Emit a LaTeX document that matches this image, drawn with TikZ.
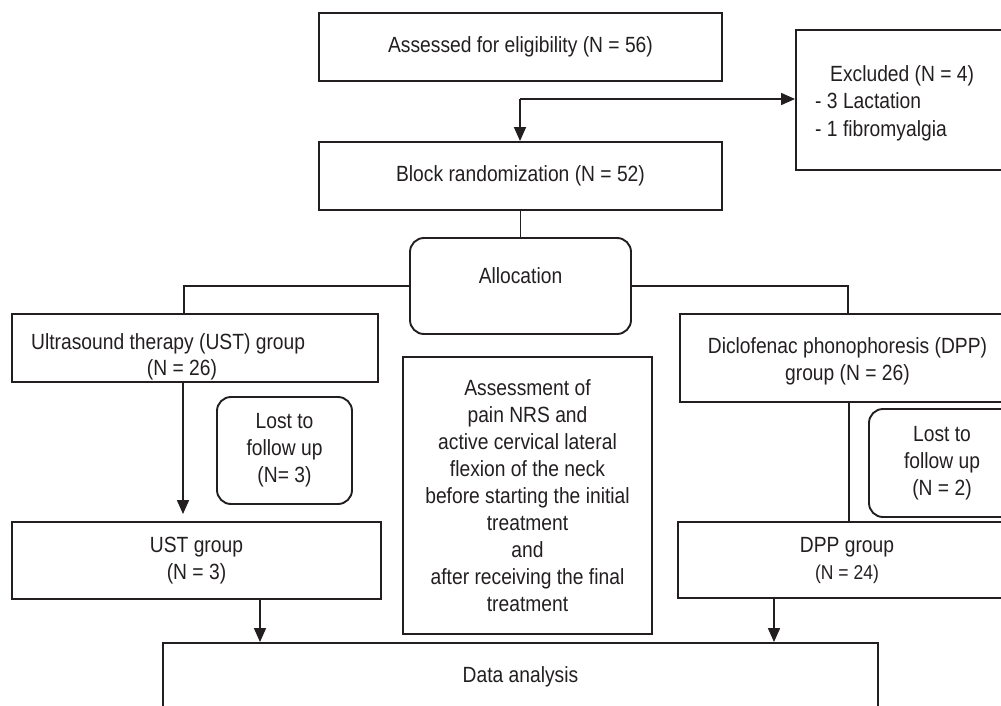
\documentclass[tikz,border=0pt]{standalone}
\usepackage{fontspec}
\setmainfont{Liberation Sans}[FakeStretch=0.875]
\usetikzlibrary{arrows.meta}
\definecolor{ink}{HTML}{231F20}
\begin{document}
\begin{tikzpicture}[x=1pt,y=-1pt,
  box/.style={draw=ink, line width=1.9pt, inner sep=0pt},
  rbox/.style={box, rounded corners=14pt},
  txt/.style={text=ink, font=\fontsize{22}{27}\selectfont, inner sep=0pt, align=center},
  conn/.style={draw=ink, line width=1.7pt},
  arr/.style={conn, -{Triangle[length=14pt,width=12pt]}}]
\useasboundingbox (0,0) rectangle (1001,706);
\clip (0,0) rectangle (1001,706);

% boxes
\node[box, txt, minimum width=403pt, minimum height=68pt] (assess) at (520.5,47) {Assessed for eligibility (N = 56)};
\node[box, minimum width=216pt, minimum height=140pt] (excl) at (904,100) {};
\node[txt, anchor=base west] (ex1) at (830,82) {Excluded (N = 4)};
\node[txt, anchor=base west] (ex2) at (815,109) {- 3 Lactation};
\node[txt, anchor=base west] (ex3) at (815,137) {- 1 fibromyalgia};

\node[box, txt, minimum width=403pt, minimum height=68pt] (block) at (520.5,176) {Block randomization (N = 52)};
\node[rbox, txt, minimum width=221pt, minimum height=96pt, text height=16pt, text depth=22pt] (alloc) at (520.5,286) {Allocation};

\node[box, minimum width=366pt, minimum height=68pt] (ust) at (195,348) {};
\node[txt, anchor=base west] (ust1) at (31,349) {Ultrasound therapy (UST) group};
\node[txt, anchor=base] (ust2) at (182,375) {(N = 26)};

\node[box, minimum width=336pt, minimum height=88pt] (dpp) at (848,358) {};
\node[txt, anchor=base] (dpp1) at (847.5,353) {Diclofenac phonophoresis (DPP)};
\node[txt, anchor=base] (dpp2) at (847.5,380) {group (N = 26)};

\node[rbox, txt, minimum width=135pt, minimum height=107pt] (lostl) at (284.5,450.5) {Lost to\\follow up\\(N= 3)};
\node[rbox, txt, minimum width=146pt, minimum height=108pt] (lostr) at (942,463) {Lost to\\follow up\\(N = 2)};

\node[box, txt, minimum width=249pt, minimum height=277pt] (asmt) at (527.5,495.5)
  {Assessment of\\pain NRS and\\active cervical lateral\\flexion of the neck\\before starting the initial\\treatment\\and\\after receiving the final\\treatment};

\node[box, txt, minimum width=369pt, minimum height=77pt] (ustg) at (196.5,560.5) {UST group\\(N = 3)};
\node[box, txt, minimum width=338pt, minimum height=76pt] (dppg) at (847,560) {DPP group\\{\fontsize{20}{27}\selectfont(N = 24)}};

\node[box, txt, minimum width=715pt, minimum height=68pt] (data) at (520.5,677) {Data analysis};

% connectors
\coordinate (j) at (520,99);
\draw[arr] (j) -- (j -| excl.west);
\draw[arr] (j) -- (j |- block.north);
\draw[conn] (block.south) -- (alloc.north);
\coordinate (ustin) at (184,314);
\draw[conn] (alloc.west) -| (ustin);
\draw[conn] (alloc.east) -| (dpp.north);
\draw[arr, shorten >=7pt] (183,0 |- ust.south) -- (183,0 |- ustg.north);
\draw[conn] (849,0 |- dpp.south) -- (849,0 |- dppg.north);
\draw[arr] (260,0 |- ustg.south) -- (260,0 |- data.north);
\draw[arr] (774,0 |- dppg.south) -- (774,0 |- data.north);
\end{tikzpicture}
\end{document}
